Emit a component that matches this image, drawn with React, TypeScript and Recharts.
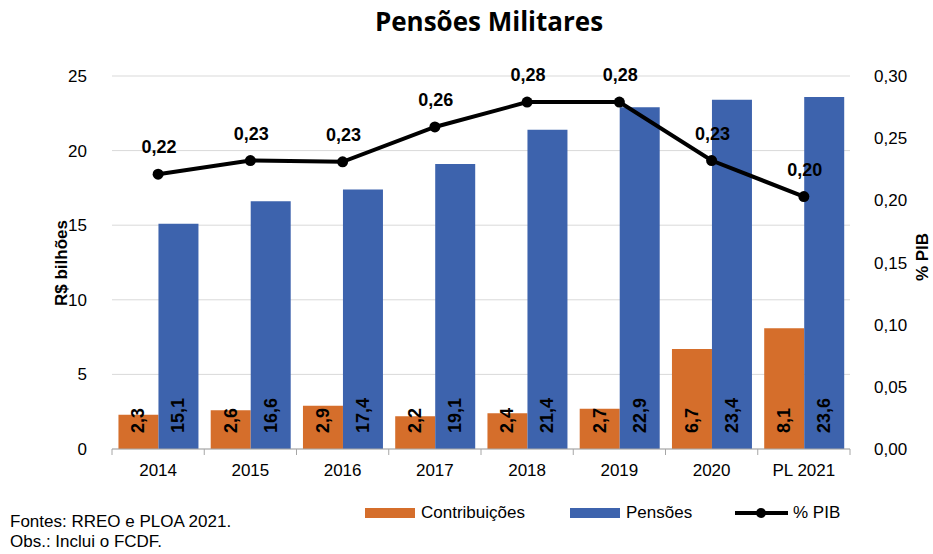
import React from "react";
import {
  ComposedChart,
  Bar,
  Line,
  XAxis,
  YAxis,
  CartesianGrid,
  LabelList,
  Legend,
} from "recharts";

const anos = ["2014", "2015", "2016", "2017", "2018", "2019", "2020", "PL 2021"];
const contribuicoes = [2.3, 2.6, 2.9, 2.2, 2.4, 2.7, 6.7, 8.1];
const pensoes = [15.1, 16.6, 17.4, 19.1, 21.4, 22.9, 23.4, 23.6];
const pctPib = [0.221, 0.232, 0.231, 0.259, 0.279, 0.279, 0.232, 0.203];
const ticksReais = [0, 5, 10, 15, 20, 25];
const ticksPib = [0, 0.05, 0.1, 0.15, 0.2, 0.25, 0.3];

const LARANJA = "#D56E2B";
const AZUL = "#3D63AD";
const FONTE = "'Liberation Sans', Arial, sans-serif";

const data = anos.map((ano, i) => ({
  ano,
  contribuicoes: contribuicoes[i],
  pensoes: pensoes[i],
  pib: pctPib[i],
}));

const virgula = (v: number, casas: number) => v.toFixed(casas).replace(".", ",");

// rótulo vertical dentro da barra, a partir da base
const RotuloBarra = (props: any) => {
  const { x, y, width, height, value } = props;
  const cx = x + width / 2;
  const base = y + height - 16;
  return (
    <text
      x={cx}
      y={base}
      transform={`rotate(-90 ${cx} ${base})`}
      textAnchor="start"
      dominantBaseline="central"
      fontFamily={FONTE}
      fontWeight="bold"
      fontSize={18}
      fill="#000"
    >
      {virgula(value, 1)}
    </text>
  );
};

const RotuloLinha = (props: any) => {
  const { x, y, value } = props;
  return (
    <text
      x={x + 1}
      y={y - 21}
      textAnchor="middle"
      fontFamily={FONTE}
      fontWeight="bold"
      fontSize={18}
      fill="#000"
    >
      {virgula(value, 2)}
    </text>
  );
};

// tick do eixo X nas divisões entre categorias
const TickAno = (props: any) => {
  const { x, y, payload, index, visibleTicksCount } = props;
  const meia = payload.offset ?? 46;
  const yEixo = y - 8;
  return (
    <g>
      <line x1={x - meia} y1={yEixo} x2={x - meia} y2={yEixo + 6} stroke="#a6a6a6" />
      {index === visibleTicksCount - 1 && (
        <line x1={x + meia} y1={yEixo} x2={x + meia} y2={yEixo + 6} stroke="#a6a6a6" />
      )}
      <text x={x} y={y} dy={19} textAnchor="middle" fontFamily={FONTE} fontSize={17} fill="#000">
        {payload.value}
      </text>
    </g>
  );
};

const Legenda = () => (
  <div style={{ position: "relative", width: 933, height: 20, fontFamily: FONTE, fontSize: 17 }}>
    <div style={{ position: "absolute", left: 365, top: 0, height: 20, display: "flex", alignItems: "center" }}>
      <span style={{ width: 50, height: 10, background: LARANJA, marginRight: 6 }} />
      <span>Contribuições</span>
    </div>
    <div style={{ position: "absolute", left: 570, top: 0, height: 20, display: "flex", alignItems: "center" }}>
      <span style={{ width: 50, height: 10, background: AZUL, marginRight: 6 }} />
      <span>Pensões</span>
    </div>
    <div style={{ position: "absolute", left: 735, top: 0, height: 20, display: "flex", alignItems: "center" }}>
      <svg width={53} height={12} style={{ marginRight: 5 }}>
        <line x1={0} y1={6} x2={53} y2={6} stroke="#000" strokeWidth={4} />
        <circle cx={26} cy={6} r={5} fill="#000" />
      </svg>
      <span>% PIB</span>
    </div>
  </div>
);

export default function App() {
  return (
    <div style={{ position: "relative", width: 933, height: 554, background: "#fff" }}>
      <style>{"body{margin:0}"}</style>

      <div
        style={{
          position: "absolute",
          left: 489,
          top: 8,
          transform: "translateX(-50%)",
          fontFamily: "'Open Sans', Lato, sans-serif",
          fontWeight: "bold",
          fontSize: 26,
          lineHeight: 1,
          whiteSpace: "nowrap",
        }}
      >
        Pensões Militares
      </div>

      <ComposedChart
        width={933}
        height={554}
        data={data}
        margin={{ top: 76, right: 0, bottom: 75, left: 0 }}
        barCategoryGap="7%"
        barGap={0}
      >
        <CartesianGrid yAxisId="reais" vertical={false} stroke="#d9d9d9" />
        <XAxis
          dataKey="ano"
          height={30}
          axisLine={{ stroke: "#a6a6a6" }}
          tickLine={false}
          tick={<TickAno />}
          interval={0}
        />
        <YAxis
          yAxisId="reais"
          width={112}
          domain={[0, 25]}
          ticks={ticksReais}
          axisLine={false}
          tickLine={false}
          tickMargin={19}
          tick={{ fontFamily: FONTE, fontSize: 17, fill: "#000" }}
        />
        <YAxis
          yAxisId="pib"
          orientation="right"
          width={83}
          domain={[0, 0.3]}
          ticks={ticksPib}
          axisLine={false}
          tickLine={false}
          tickMargin={18}
          tickFormatter={(v: number) => virgula(v, 2)}
          tick={{ fontFamily: FONTE, fontSize: 17, fill: "#000" }}
        />
        <Legend
          layout="horizontal"
          align="center"
          verticalAlign="middle"
          wrapperStyle={{ top: 503, left: 0, width: 933 }}
          content={<Legenda />}
        />
        <Bar yAxisId="reais" dataKey="contribuicoes" name="Contribuições" fill={LARANJA} isAnimationActive={false}>
          <LabelList dataKey="contribuicoes" content={<RotuloBarra />} />
        </Bar>
        <Bar yAxisId="reais" dataKey="pensoes" name="Pensões" fill={AZUL} isAnimationActive={false}>
          <LabelList dataKey="pensoes" content={<RotuloBarra />} />
        </Bar>
        <Line
          yAxisId="pib"
          dataKey="pib"
          name="% PIB"
          type="linear"
          stroke="#000"
          strokeWidth={4}
          dot={{ r: 5.5, fill: "#000", stroke: "#000", strokeWidth: 0 }}
          isAnimationActive={false}
        >
          <LabelList dataKey="pib" content={<RotuloLinha />} />
        </Line>
      </ComposedChart>

      <div
        style={{
          position: "absolute",
          left: 62,
          top: 263,
          transform: "translate(-50%, -50%) rotate(-90deg)",
          fontFamily: FONTE,
          fontWeight: "bold",
          fontSize: 17,
          whiteSpace: "nowrap",
        }}
      >
        R$ bilhões
      </div>
      <div
        style={{
          position: "absolute",
          left: 923,
          top: 257,
          transform: "translate(-50%, -50%) rotate(-90deg)",
          fontFamily: FONTE,
          fontWeight: "bold",
          fontSize: 17,
          whiteSpace: "nowrap",
        }}
      >
        % PIB
      </div>

      <div
        style={{
          position: "absolute",
          left: 10,
          top: 512,
          fontFamily: FONTE,
          fontSize: 17,
          lineHeight: "20px",
        }}
      >
        Fontes: RREO e PLOA 2021.
        <br />
        Obs.: Inclui o FCDF.
      </div>
    </div>
  );
}
